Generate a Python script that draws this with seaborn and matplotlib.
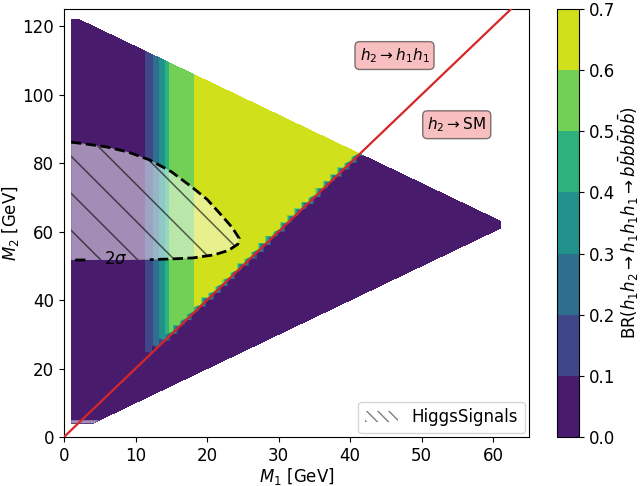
import numpy as np
import matplotlib
matplotlib.use("Agg")
import matplotlib.pyplot as plt
import matplotlib.patches as mpatches
import seaborn as sns

# BR(h1h2 -> h1h1h1 -> 6b) above the h2->h1h1 threshold, one value per M1 column [GeV]
m1_cols = np.arange(1, 42)
br_cols = ([0.0] * 10
           + [0.086, 0.126, 0.274, 0.36, 0.56, 0.57, 0.58, 0.59, 0.645]
           + [0.65] * 22)

# scan ranges of the parameter points [GeV]
m1_scan = np.arange(1, 62)
m2_scan = np.arange(4, 123)

# HiggsSignals 2 sigma region (boundary)
hs_m1 = [1, 3, 6, 9, 12, 15, 18, 20, 22, 23.5, 24.5, 24.3, 23, 21, 18, 15, 12, 8.7, 5.7, 3, 1]
hs_m2 = [86.1, 85.6, 84.7, 83.2, 80.9, 77.5, 72.8, 69.4, 64.8, 61.2, 58.0, 56.3, 54.5, 53.2,
         52.3, 52.0, 51.8, 51.7, 51.7, 51.7, 51.7]
# small HiggsSignals strip at low M2
hs2_m1 = [1, 4.2, 4.9, 1]
hs2_m2 = [4.0, 4.0, 4.9, 4.9]

# kinematic threshold M2 = 2 M1
kin_m1 = np.array([0, 65])
kin_m2 = 2 * kin_m1

levels = np.linspace(0, 0.7, 8)

# build the scan table
M1, M2 = np.meshgrid(m1_scan, m2_scan)
keep = (M2 >= M1) & (M1 + M2 <= 124)
x = M1[keep].astype(float)
y = M2[keep].astype(float)
br_lookup = dict(zip(m1_cols, br_cols))
col_br = np.array([br_lookup.get(int(v), 0.0) for v in x])
z = np.where(y > 2 * x, col_br, 0.0)

cmap = sns.color_palette("viridis", as_cmap=True)
plt.rcParams['font.family'] = ['DejaVu Sans']
plt.rcParams['font.size'] = 12

fig = plt.figure(figsize=(6.41, 4.86), dpi=100)
ax = fig.add_axes([0.0998, 0.1008, 0.7255, 0.8807])
cax = fig.add_axes([0.869, 0.1008, 0.0343, 0.8807])

cs = ax.tricontourf(x, y, z, levels=levels, cmap=cmap)

ax.set_xlim(0, 65)
ax.set_ylim(0, 125)

# HiggsSignals region: light fill, sparse hatch, dashed outline
poly = ax.fill(hs_m1, hs_m2, facecolor='white', alpha=0.5, edgecolor='none', zorder=3)[0]
ax.fill(hs2_m1, hs2_m2, facecolor='white', alpha=0.5, edgecolor='none', zorder=3)

p0 = ax.transData.transform((0, 0))
p1 = ax.transData.transform((1, 1))
sx, sy = p1 - p0
slope = -sx / sy
dx = 37.0 / sx
xs = np.array([-10, 80])
for k in range(-10, 20):
    x0 = 5.1 + k * dx
    ln, = ax.plot(xs, 51.8 + slope * (xs - x0), color='black', lw=1.1, alpha=0.6, zorder=3.5)
    ln.set_clip_path(poly)

hs_line_m1 = np.array(hs_m1, dtype=float)
hs_line_m2 = np.array(hs_m2, dtype=float)
gap = (hs_line_m1 > 5.0) & (hs_line_m1 < 9.0) & (hs_line_m2 < 55)
hs_line_m2[gap] = np.nan
ax.plot(hs_line_m1, hs_line_m2, color='black', ls='--', lw=2, zorder=4)
ax.text(7.2, 52.0, r'$2\sigma$', ha='center', va='center', fontsize=12, zorder=4)

ax.plot(kin_m1, kin_m2, color='#d62728', lw=1.6, zorder=5)

box = dict(boxstyle='round', facecolor='lightcoral', alpha=0.5)
ax.text(46.2, 111.4, r'$h_2\to h_1h_1$', ha='center', va='center', fontsize=11, bbox=box, zorder=6)
ax.text(54.9, 91.2, r'$h_2\to$SM', ha='center', va='center', fontsize=11, bbox=box, zorder=6)

handle = mpatches.Patch(facecolor='white', edgecolor='black', alpha=0.5, hatch='\\\\\\',
                        linewidth=0, label='HiggsSignals')
ax.legend(handles=[handle], loc='lower right', borderaxespad=0.25)

ax.set_xlabel('$M_1$ [GeV]', labelpad=1)
ax.set_ylabel('$M_2$ [GeV]', labelpad=1)

cb = fig.colorbar(cs, cax=cax, ticks=levels)
cb.set_label(r'BR($h_1h_2\to h_1h_1h_1\to b\bar{b}b\bar{b}b\bar{b}$)', labelpad=1)

fig.savefig('out.png', dpi=100)
